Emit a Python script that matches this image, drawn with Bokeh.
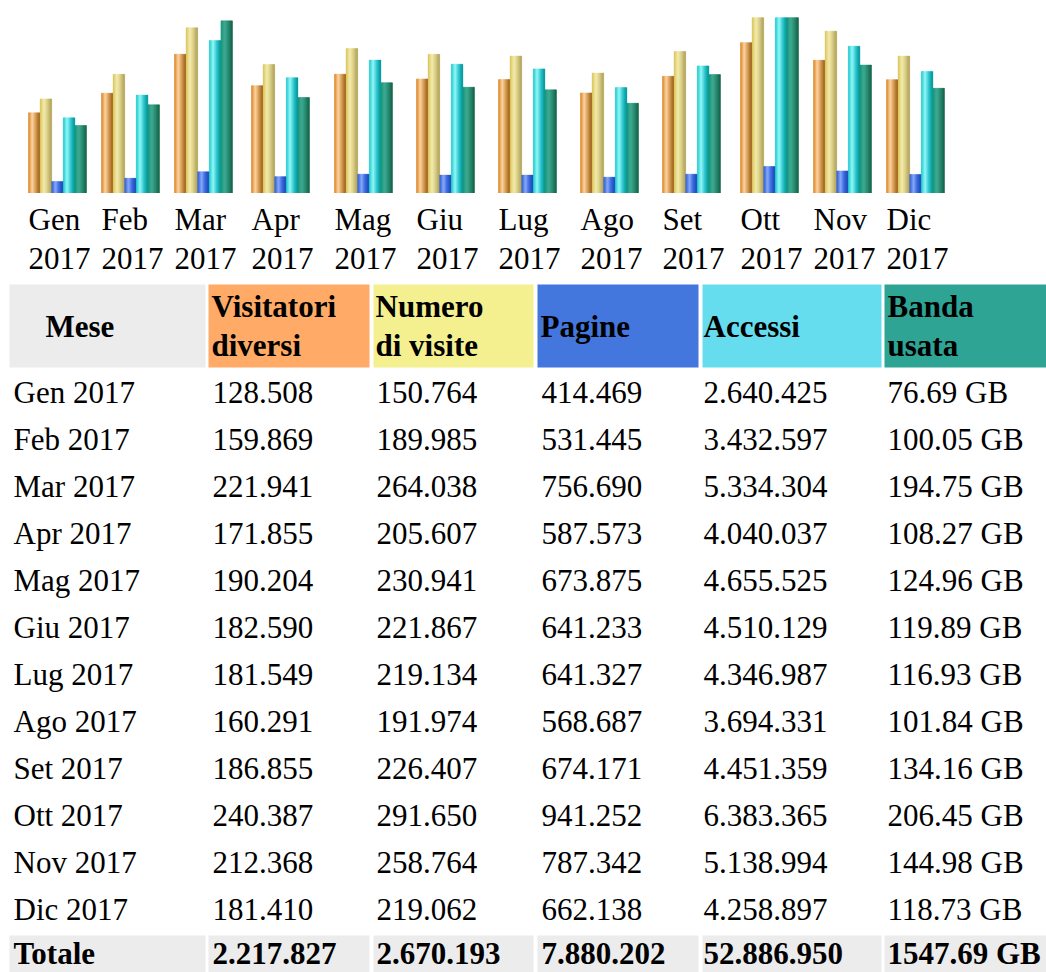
from bokeh.plotting import figure
from bokeh.models import Range1d, ColumnDataSource
from bokeh.layouts import column
from bokeh.embed import file_html
from bokeh.resources import INLINE
from bokeh.core.properties import value

# ---------------- data ----------------
months = ["Gen", "Feb", "Mar", "Apr", "Mag", "Giu", "Lug", "Ago", "Set", "Ott", "Nov", "Dic"]
year = "2017"
visitors = [128508, 159869, 221941, 171855, 190204, 182590, 181549, 160291, 186855, 240387, 212368, 181410]
visits = [150764, 189985, 264038, 205607, 230941, 221867, 219134, 191974, 226407, 291650, 258764, 219062]
pages = [414469, 531445, 756690, 587573, 673875, 641233, 641327, 568687, 674171, 941252, 787342, 662138]
hits = [2640425, 3432597, 5334304, 4040037, 4655525, 4510129, 4346987, 3694331, 4451359, 6383365, 5138994, 4258897]
bandwidth_gb = [76.69, 100.05, 194.75, 108.27, 124.96, 119.89, 116.93, 101.84, 134.16, 206.45, 144.98, 118.73]
total_label = "Totale"
totals = [2217827, 2670193, 7880202, 52886950]
total_bandwidth_gb = 1547.69
headers = [["Mese"], ["Visitatori", "diversi"], ["Numero", "di visite"], ["Pagine"], ["Accessi"], ["Banda", "usata"]]

# ---------------- layout / style ----------------
FONT = value("Liberation Serif")
FS = "31px"
W, H = 1046, 972
BAR_TOP, BAR_BASE, BAR_FULL = 17, 193, 183
TDY = -11  # baseline correction for text glyphs
group_left = [28, 101, 174, 251, 334, 416, 498, 580, 662, 740, 813, 886]
bar_w = 11.6
n_stripes = 12
col_bounds = [(9, 205), (208, 369), (373, 533), (537, 698), (702, 881), (884, 1046)]
col_text_x = [13, 212, 376, 541, 703, 887]
head_text_x = [45, 211, 375, 540, 703, 887]
head_colors = ["#ECECEC", "#FFAA66", "#F4F090", "#4477DD", "#66DDEE", "#2EA495"]
grad_stops = [0.0, 0.33, 0.66, 1.0]
series_grad = [
    ["#d87c12", "#ffd49e", "#d29446", "#9c5c12"],   # visitatori
    ["#dcc65a", "#f6eeb0", "#d8cc80", "#b0a050"],   # visite
    ["#1f50d4", "#80a4f6", "#2c5ee0", "#0a3cb0"],   # pagine
    ["#14c6ce", "#8ef8f8", "#30c8d0", "#00989e"],   # accessi
    ["#109272", "#34a48e", "#168468", "#005a3a"],   # banda
]


def hex2rgb(h):
    h = h.lstrip("#")
    return [int(h[i:i + 2], 16) for i in (0, 2, 4)]


def grad(stops_cols, t):
    for a in range(len(grad_stops) - 1):
        if grad_stops[a] <= t <= grad_stops[a + 1]:
            u = (t - grad_stops[a]) / (grad_stops[a + 1] - grad_stops[a])
            c0, c1 = hex2rgb(stops_cols[a]), hex2rgb(stops_cols[a + 1])
            c = [round(c0[i] + (c1[i] - c0[i]) * u) for i in range(3)]
            return "#%02x%02x%02x" % tuple(c)
    return stops_cols[-1]


def fmt_int(v):
    return f"{v:,}".replace(",", ".")


# ---------------- bar chart ----------------
frac = (BAR_BASE - BAR_TOP) / BAR_FULL
pA = figure(width=W, height=BAR_BASE, x_range=Range1d(0, W),
            y_range=Range1d(0, max(visits) * frac),
            output_backend="svg", toolbar_location=None, title=None,
            x_axis_location=None, y_axis_location=None,
            min_border_left=0, min_border_right=0, min_border_bottom=0,
            min_border_top=BAR_TOP, outline_line_color=None)
pA.extra_y_ranges = {"h": Range1d(0, max(hits) * frac), "k": Range1d(0, max(bandwidth_gb) * frac)}
pA.xgrid.visible = False
pA.ygrid.visible = False

series = [(visitors, "default"), (visits, "default"), (pages, "h"), (hits, "h"), (bandwidth_gb, "k")]
for j, (vals, rng) in enumerate(series):
    L, R, T, C = [], [], [], []
    for i, v in enumerate(vals):
        left = group_left[i] + j * bar_w
        for k in range(n_stripes):
            L.append(left + k * bar_w / n_stripes)
            R.append(left + (k + 1) * bar_w / n_stripes)
            T.append(v)
            C.append(grad(series_grad[j], k / (n_stripes - 1)))
    src = ColumnDataSource(dict(left=L, right=R, top=T, color=C))
    pA.quad(left="left", right="right", bottom=0, top="top", source=src,
            fill_color="color", line_color="color", line_width=0.4, y_range_name=rng)

# ---------------- labels + table ----------------
pB = figure(width=W, height=H - BAR_BASE, x_range=Range1d(0, W),
            y_range=Range1d(H, BAR_BASE),
            output_backend="svg", toolbar_location=None, title=None,
            x_axis_location=None, y_axis_location=None,
            min_border=0, outline_line_color=None)
pB.xgrid.visible = False
pB.ygrid.visible = False

txt = dict(text_font=FONT, text_font_size=FS, text_color="#000000",
           text_align="left", text_baseline="alphabetic")

# month labels under the bars
pB.text(x=group_left, y=[230 + TDY] * len(months), text=months, **txt)
pB.text(x=group_left, y=[269 + TDY] * len(months), text=[year] * len(months), **txt)

# header cells
pB.quad(left=[b[0] for b in col_bounds], right=[b[1] for b in col_bounds],
        top=[284] * 6, bottom=[367] * 6, fill_color=head_colors, line_color=None)
for c, lines in enumerate(headers):
    if len(lines) == 1:
        pB.text(x=[head_text_x[c]], y=[337 + TDY], text=lines, text_font_style="bold", **txt)
    else:
        pB.text(x=[head_text_x[c]] * 2, y=[317 + TDY, 356 + TDY], text=lines,
                text_font_style="bold", **txt)

# body rows
row_y = [403 + TDY + 47 * i for i in range(len(months))]
cols = [
    [f"{m} {year}" for m in months],
    [fmt_int(v) for v in visitors],
    [fmt_int(v) for v in visits],
    [fmt_int(v) for v in pages],
    [fmt_int(v) for v in hits],
    [f"{v:.2f} GB" for v in bandwidth_gb],
]
for c, texts in enumerate(cols):
    pB.text(x=[col_text_x[c]] * len(texts), y=row_y, text=texts, **txt)

# totals row
pB.quad(left=[b[0] for b in col_bounds], right=[b[1] for b in col_bounds],
        top=[935] * 6, bottom=[H + 5] * 6, fill_color="#ECECEC", line_color=None)
tot_texts = [total_label] + [fmt_int(v) for v in totals] + [f"{total_bandwidth_gb:.2f} GB"]
pB.text(x=col_text_x, y=[964 + TDY] * 6, text=tot_texts, text_font_style="bold", **txt)

layout = column(pA, pB, spacing=0)
open("out.html", "w").write(file_html(layout, INLINE))
